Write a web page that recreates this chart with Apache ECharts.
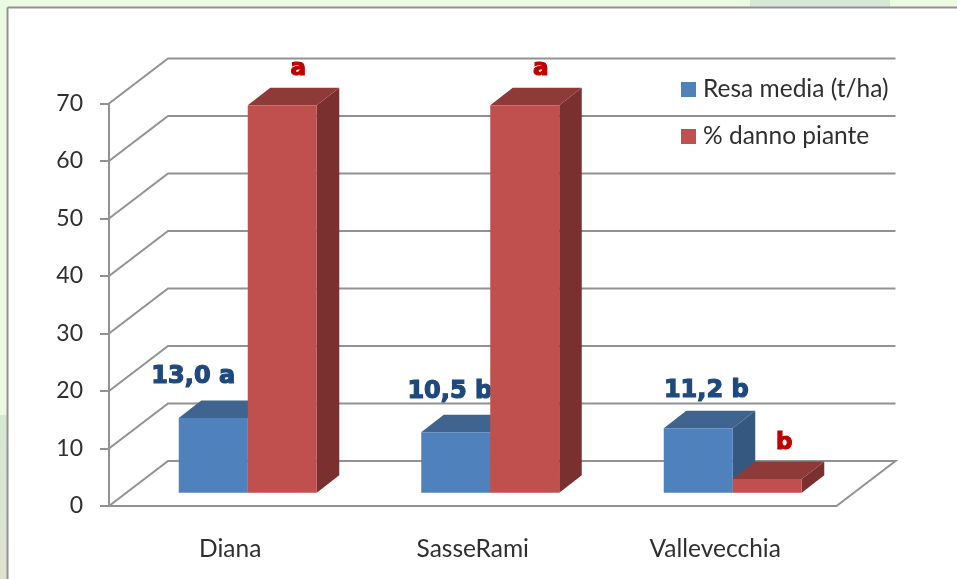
<!DOCTYPE html>
<html>
<head>
<meta charset="utf-8">
<script src="https://cdn.jsdelivr.net/npm/echarts@6/dist/echarts.min.js"></script>
<style>
  html, body { margin: 0; padding: 0; background: #fff; }
  #chart { width: 957px; height: 579px; }
</style>
</head>
<body>
<div id="chart"></div>
<script>
const categorie = ['Diana', 'SasseRami', 'Vallevecchia'];
const resaMedia = [13.0, 10.5, 11.2];
const dannoPiante = [67.4, 67.4, 2.4];
const noteResa = ['13,0 a', '10,5 b', '11,2 b'];
const noteDanno = ['a', 'a', 'b'];
const tickValori = [0, 10, 20, 30, 40, 50, 60, 70];

// spostamento delle etichette rispetto al centro della barra, a mano come nell'originale
const spostaResa = [[-20, -41], [-6, -41], [8, -38]];
const spostaDanno = [[16, -36], [16, -36], [17, -36]];

const GRIGIO = '#929292';
const TESTO = '#2f2f2f';
const FONT = 'Lato, sans-serif';
const LARGH = 69;
const PARETE = [59, -45];    // profondita' delle pareti
const PIEDE = [17.5, -13.3]; // dove poggia la barra sul pavimento
const CUBO = [22.5, -17.5];  // profondita' della barra

function poly(points, fill) {
  return { type: 'polygon', shape: { points: points }, style: { fill: fill } };
}

function barra3d(lato, fronte, tetto, fianco, note, sposta, coloreNota, corpoNota) {
  return function (params, api) {
    const i = api.value(0);
    const base = api.coord([i, 0]);
    const cima = api.coord([i, api.value(1)]);
    const x0 = base[0] + PIEDE[0] + (lato < 0 ? -LARGH : 0);
    const x1 = x0 + LARGH;
    const y0 = base[1] + PIEDE[1];
    const y1 = cima[1] + PIEDE[1];
    const dx = CUBO[0], dy = CUBO[1];
    return {
      type: 'group',
      children: [
        poly([[x1, y0], [x1 + dx, y0 + dy], [x1 + dx, y1 + dy], [x1, y1]], fianco),
        poly([[x0, y1], [x0 + dx, y1 + dy], [x1 + dx, y1 + dy], [x1, y1]], tetto),
        poly([[x0, y0], [x1, y0], [x1, y1], [x0, y1]], fronte),
        {
          type: 'text',
          style: {
            x: (x0 + x1) / 2 + sposta[i][0],
            y: y1 + sposta[i][1],
            text: note[i],
            fill: coloreNota,
            stroke: coloreNota,
            lineWidth: 1.2,
            font: 'bold ' + corpoNota + 'px "DejaVu Sans", sans-serif',
            align: 'center',
            verticalAlign: 'middle'
          }
        }
      ]
    };
  };
}

function pareti(params, api) {
  const v = api.value(0);
  const sys = params.coordSys;
  const p = api.coord([0, v]);
  const xa = sys.x, xb = sys.x + sys.width;
  const pts = [[xa, p[1]], [xa + PARETE[0], p[1] + PARETE[1]], [xb + PARETE[0], p[1] + PARETE[1]]];
  if (v === 0) pts.push([xb, p[1]]);
  return {
    type: 'polyline',
    shape: { points: pts },
    style: { stroke: GRIGIO, lineWidth: 2, fill: 'none' }
  };
}

const chart = echarts.init(document.getElementById('chart'));

chart.setOption({
  animation: false,
  backgroundColor: '#fff',
  graphic: [
    { type: 'rect', z: -10, shape: { x: 0, y: 0, width: 957, height: 8 }, style: { fill: '#e9fbe0' } },
    { type: 'rect', z: -10, shape: { x: 0, y: 0, width: 8, height: 579 }, style: { fill: '#e9fbe0' } },
    { type: 'rect', z: -9, shape: { x: 750, y: 0, width: 140, height: 7 }, style: { fill: '#d4e9d4' } },
    {
      type: 'rect', z: -9, shape: { x: 0, y: 415, width: 7, height: 164 },
      style: { fill: new echarts.graphic.LinearGradient(0, 0, 0, 1, [
        { offset: 0, color: '#d3e9d3' }, { offset: 1, color: '#e0e2cf' }
      ]) }
    },
    { type: 'line', z: -8, shape: { x1: 7.5, y1: 7.5, x2: 957, y2: 7.5 }, style: { stroke: GRIGIO, lineWidth: 2 } },
    { type: 'line', z: -8, shape: { x1: 7.5, y1: 7.5, x2: 7.5, y2: 579 }, style: { stroke: GRIGIO, lineWidth: 2 } }
  ],
  grid: { left: 109, top: 103.5, width: 727.5, height: 402.5 },
  legend: {
    left: 681,
    top: 77,
    padding: 0,
    orient: 'vertical',
    icon: 'rect',
    itemWidth: 15,
    itemHeight: 15,
    itemGap: 22,
    data: ['Resa media (t/ha)', '% danno piante'],
    textStyle: { fontFamily: FONT, fontSize: 24.5, color: TESTO, padding: [0, 0, 0, 2] }
  },
  xAxis: {
    type: 'category',
    data: categorie,
    axisLine: { lineStyle: { color: GRIGIO, width: 2 } },
    axisTick: { alignWithLabel: false, length: 9, lineStyle: { color: GRIGIO, width: 2 } },
    axisLabel: { margin: 31, fontFamily: FONT, fontSize: 24.5, color: TESTO },
    splitLine: { show: false }
  },
  yAxis: {
    type: 'value',
    min: 0,
    max: 70,
    interval: 10,
    axisLine: { show: true, lineStyle: { color: GRIGIO, width: 2 } },
    axisTick: { show: true, length: 9, lineStyle: { color: GRIGIO, width: 2 } },
    axisLabel: { margin: 26, fontFamily: FONT, fontSize: 23, color: TESTO, padding: [6, 0, 0, 0] },
    splitLine: { show: false }
  },
  series: [
    {
      name: 'pareti',
      type: 'custom',
      z: 1,
      silent: true,
      renderItem: pareti,
      encode: { y: 0 },
      data: tickValori
    },
    {
      name: 'Resa media (t/ha)',
      type: 'custom',
      z: 2,
      itemStyle: { color: '#4f81bd' },
      renderItem: barra3d(-1, '#4f81bd', '#3e648f', '#34587f', noteResa, spostaResa, '#1f497d', 24),
      encode: { x: 0, y: 1 },
      data: resaMedia.map((v, i) => [i, v])
    },
    {
      name: '% danno piante',
      type: 'custom',
      z: 3,
      itemStyle: { color: '#c0504d' },
      renderItem: barra3d(1, '#c0504d', '#8e3a38', '#7a302e', noteDanno, spostaDanno, '#c00000', 23),
      encode: { x: 0, y: 1 },
      data: dannoPiante.map((v, i) => [i, v])
    }
  ]
});
</script>
</body>
</html>
